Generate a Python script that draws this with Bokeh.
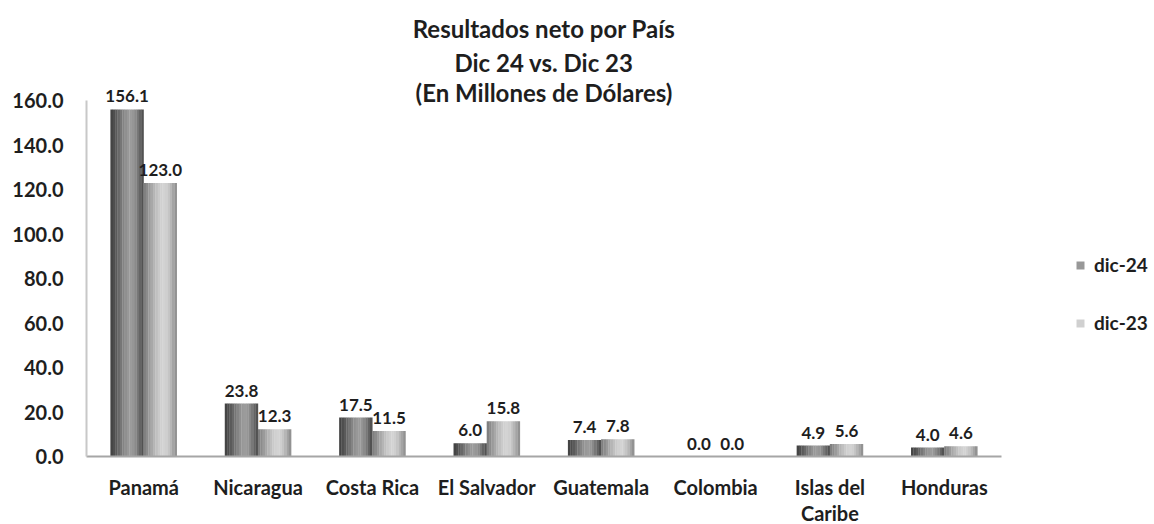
from bokeh.plotting import figure
from bokeh.models import (ColumnDataSource, FactorRange, Range1d, Title, Legend, LegendItem,
                          NumeralTickFormatter, FixedTicker, LabelSet, Label)
from bokeh.transform import dodge
from bokeh.embed import file_html
from bokeh.resources import INLINE
from bokeh.core.properties import value

categories = ["Panamá", "Nicaragua", "Costa Rica", "El Salvador", "Guatemala",
              "Colombia", "Islas del\nCaribe", "Honduras"]
dic24 = [156.1, 23.8, 17.5, 6.0, 7.4, 0.0, 4.9, 4.0]
dic23 = [123.0, 12.3, 11.5, 15.8, 7.8, 0.0, 5.6, 4.6]
series_names = ["dic-24", "dic-23"]
y_ticks = [0, 20, 40, 60, 80, 100, 120, 140, 160]
title_lines = ["Resultados neto por País", "Dic 24 vs. Dic 23", "(En Millones de Dólares)"]

FONT = "Lato"
TXT = "#1e1e1e"

src = ColumnDataSource(dict(cat=categories, d24=dic24, d23=dic23,
                            l24=[f"{v:.1f}" for v in dic24],
                            l23=[f"{v:.1f}" for v in dic23]))

p = figure(x_range=FactorRange(*categories, range_padding=0), y_range=Range1d(0, 170),
           frame_width=915, frame_height=378, output_backend="svg", toolbar_location=None,
           min_border_left=86, min_border_right=140, min_border_top=78, min_border_bottom=62)

# first two title lines above the frame (added nearest-first)
for txt, so in [(title_lines[1], 4), (title_lines[0], 2)]:
    p.add_layout(Title(text=txt, align="center", text_font=FONT, text_font_size="24px",
                       text_font_style="bold", text_color=TXT, standoff=so), "above")
# third title line overlaps the top of the plot area, as in the original
p.add_layout(Label(x=len(categories) / 2, y=163.5, text=title_lines[2],
                   text_align="center", text_baseline="middle", text_font=FONT,
                   text_font_size="24px", text_font_style="bold", text_color=TXT))

bw = 0.29
N = 14
prof24 = [0x44, 0x4e, 0x5a, 0x68, 0x76, 0x84, 0x90, 0x98, 0x9b, 0x96, 0x8a, 0x78, 0x64, 0x52]
prof23 = [0x80, 0x8c, 0x9a, 0xa8, 0xb5, 0xc0, 0xca, 0xd0, 0xd3, 0xcf, 0xc5, 0xb6, 0xa4, 0x92]
legend_r = {}
for key, base, prof in [("d24", -bw, prof24), ("d23", 0.0, prof23)]:
    for i in range(N):
        off = base + (i + 0.5) * bw / N
        g = prof[i]
        col = "#%02x%02x%02x" % (g, g, g)
        r = p.vbar(x=dodge("cat", off, range=p.x_range), top=key, width=bw / N * 1.1,
                   source=src, fill_color=col, line_color=None)
        if i == N // 2:
            legend_r[key] = r

for key, lab, off in [("d24", "l24", -bw / 2), ("d23", "l23", bw / 2)]:
    p.add_layout(LabelSet(x=dodge("cat", off, range=p.x_range), y=key, text=lab, source=src,
                          text_align="center", text_baseline="bottom", y_offset=7,
                          text_font=value(FONT), text_font_size=value("17px"),
                          text_font_style=value("bold"), text_color=value(TXT)))

legend = Legend(items=[LegendItem(label=series_names[0], renderers=[legend_r["d24"]]),
                       LegendItem(label=series_names[1], renderers=[legend_r["d23"]])],
                location=(74, 122), spacing=35, glyph_width=10, glyph_height=10,
                label_text_font=FONT, label_text_font_size="19px", label_text_font_style="bold",
                label_text_color=TXT, border_line_color=None, background_fill_alpha=0,
                margin=0, padding=0, label_standoff=9)
p.add_layout(legend, "right")

p.grid.visible = False
p.outline_line_color = None
p.yaxis.ticker = FixedTicker(ticks=y_ticks)
p.yaxis.formatter = NumeralTickFormatter(format="0.0")
p.yaxis.bounds = (0, 160)
for ax in (p.xaxis[0], p.yaxis[0]):
    ax.major_tick_line_color = None
    ax.minor_tick_line_color = None
    ax.axis_line_color = "#a6a6a6"
    ax.axis_line_width = 2
    ax.major_label_text_font = FONT
    ax.major_label_text_font_size = "20px"
    ax.major_label_text_font_style = "bold"
    ax.major_label_text_color = TXT
p.yaxis.axis_line_color = "#c8c8c8"
p.yaxis.major_label_standoff = 17
p.xaxis.major_label_standoff = 12
p.xaxis.major_label_text_line_height = 1.12

open("out.html", "w").write(file_html(p, INLINE))
